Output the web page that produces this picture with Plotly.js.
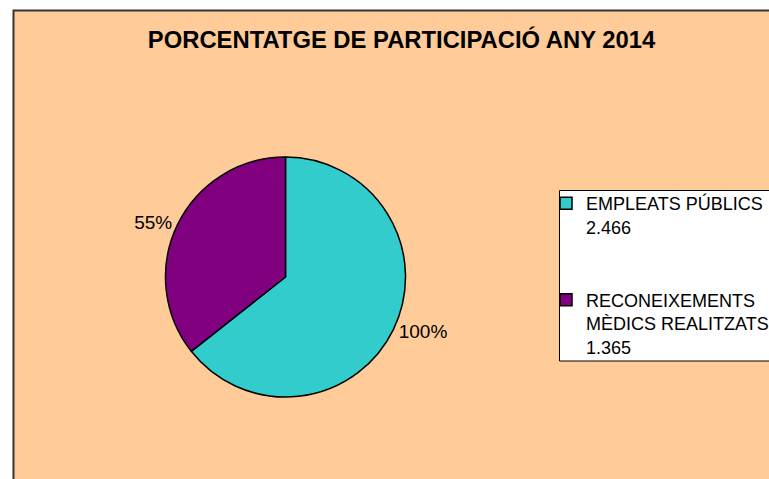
<!DOCTYPE html>
<html>
<head>
<meta charset="utf-8">
<script src="https://cdn.plot.ly/plotly-3.0.1.min.js"></script>
<style>
  html, body { margin: 0; padding: 0; background: #ffffff; }
  #chart { width: 769px; height: 479px; }
</style>
</head>
<body>
<div id="chart"></div>
<script>
// ---- data ----
const chartTitle = 'PORCENTATGE DE PARTICIPACIÓ ANY 2014';
const categories = ['EMPLEATS PÚBLICS', 'RECONEIXEMENTS<br>MÈDICS REALITZATS'];
const values = [2466, 1365];
const valueLabels = ['2.466', '1.365'];
const sliceLabels = ['100%', '55%'];
const sliceColors = ['#33CCCC', '#800080'];

// legend entries: name + value on following line (blank lines give the gap between entries)
const legendNames = categories.map((c, i) => c + '<br>' + valueLabels[i] + (i === 0 ? '<br> <br> ' : ''));

const W = 769, H = 479;
const px = x => x / W;
const py = y => 1 - y / H;

const cx = 285.5, cy = 277, r = 120;

const trace = {
  type: 'pie',
  labels: legendNames,
  values: values,
  text: sliceLabels,
  textinfo: 'text',
  textposition: 'outside',
  textfont: { family: 'Liberation Sans, Arial, sans-serif', size: 19, color: '#000000' },
  sort: false,
  direction: 'clockwise',
  rotation: 0,
  hoverinfo: 'none',
  marker: { colors: sliceColors, line: { color: '#000000', width: 1.5 } },
  domain: { x: [px(cx - r), px(cx + r)], y: [py(cy + r), py(cy - r)] }
};

const layout = {
  width: W, height: H,
  margin: { l: 0, r: 0, t: 0, b: 0, autoexpand: false },
  paper_bgcolor: '#ffffff',
  plot_bgcolor: 'rgba(0,0,0,0)',
  showlegend: true,
  title: {
    text: '<b>' + chartTitle + '</b>',
    font: { family: 'Liberation Sans, Arial, sans-serif', size: 23.8, color: '#000000' },
    x: px(401.5), xanchor: 'center', xref: 'paper',
    y: py(40), yanchor: 'middle', yref: 'container'
  },
  legend: {
    x: px(546), xanchor: 'left',
    y: py(185), yanchor: 'top',
    bgcolor: 'rgba(0,0,0,0)',
    borderwidth: 0,
    valign: 'top',
    font: { family: 'Liberation Sans, Arial, sans-serif', size: 18, color: '#000000' }
  },
  shapes: [
    { type: 'rect', xref: 'paper', yref: 'paper', layer: 'below',
      x0: px(13.5), x1: px(790), y0: py(500), y1: py(10.5),
      fillcolor: '#FFCC99', line: { color: '#333333', width: 2 } },
    { type: 'rect', xref: 'paper', yref: 'paper', layer: 'below',
      x0: px(559.5), x1: px(790), y0: py(361), y1: py(190.5),
      fillcolor: '#FFFFFF', line: { color: '#000000', width: 1 } }
  ]
};

Plotly.newPlot('chart', [trace], layout, { displayModeBar: false, staticPlot: true });
</script>
</body>
</html>
